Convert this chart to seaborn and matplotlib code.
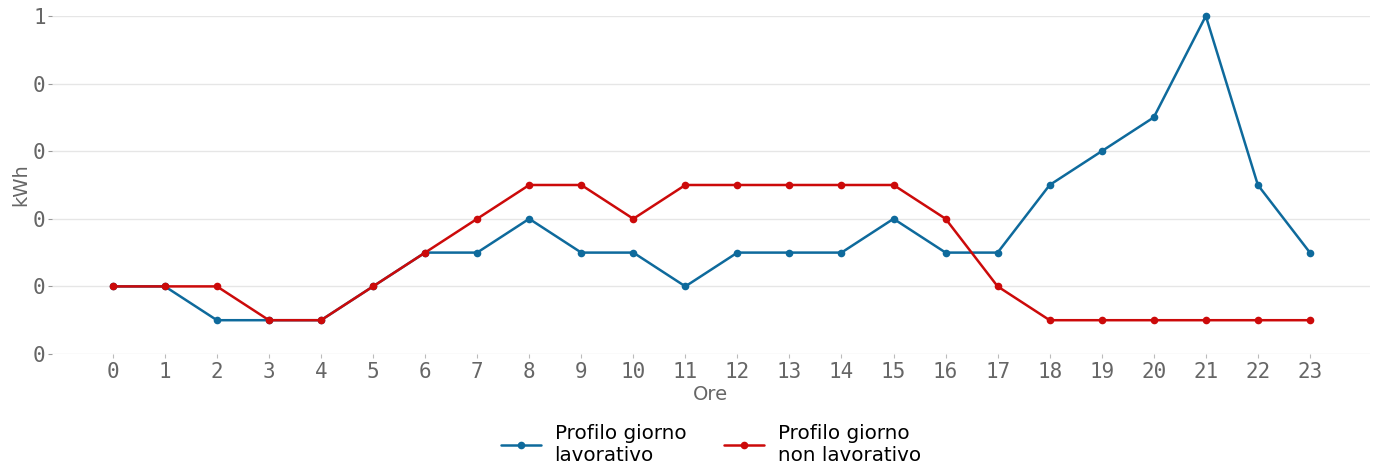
import matplotlib
matplotlib.use("Agg")
import matplotlib.pyplot as plt
import seaborn as sns
import pandas as pd
from matplotlib.ticker import FuncFormatter

hours = list(range(24))
lavorativo = [0.2, 0.2, 0.1, 0.1, 0.1, 0.2, 0.3, 0.3, 0.4, 0.3, 0.3, 0.2,
              0.3, 0.3, 0.3, 0.4, 0.3, 0.3, 0.5, 0.6, 0.7, 1.0, 0.5, 0.3]
non_lavorativo = [0.2, 0.2, 0.2, 0.1, 0.1, 0.2, 0.3, 0.4, 0.5, 0.5, 0.4, 0.5,
                  0.5, 0.5, 0.5, 0.5, 0.4, 0.2, 0.1, 0.1, 0.1, 0.1, 0.1, 0.1]
series_names = ["Profilo giorno\nlavorativo", "Profilo giorno\nnon lavorativo"]
colors = ["#0e6a9c", "#cc0a0a"]

df = pd.DataFrame({
    "Ore": hours * 2,
    "kWh": lavorativo + non_lavorativo,
    "serie": [series_names[0]] * 24 + [series_names[1]] * 24,
})

sns.set_style("white")
fig = plt.figure(figsize=(13.85, 4.7), dpi=100)
ax = fig.add_axes([0.0375, 0.2468, 0.9515, 0.7192])

sns.lineplot(data=df, x="Ore", y="kWh", hue="serie", palette=colors,
             marker="o", markersize=5.5, markeredgewidth=0, linewidth=1.8,
             ax=ax, legend=True)
for l in ax.lines:
    l.set_clip_on(False)

ax.set_xlim(-1.17, 24.15)
ax.set_ylim(0, 1.0)
ax.set_xticks(hours)
ax.set_yticks([0, 0.2, 0.4, 0.6, 0.8, 1.0])
ax.yaxis.set_major_formatter(FuncFormatter(lambda v, p: f"{int(round(v, 6))}"))
ax.grid(axis="y", color="#e6e6e6", linewidth=1)
ax.grid(axis="x", visible=False)
for s in ax.spines.values():
    s.set_visible(False)
ax.tick_params(axis="y", which="major", length=3, width=0.8, color="#999999",
               labelsize=15, labelcolor="#666666", pad=1.5, left=True)
ax.tick_params(axis="x", length=3, width=0.8, color="#bbbbbb", labelsize=15,
               labelcolor="#666666", pad=3, bottom=True)
for t in ax.get_xticklabels() + ax.get_yticklabels():
    t.set_fontfamily("DejaVu Sans Mono")

ax.set_xlabel("Ore", fontsize=14, color="#666666", labelpad=2)
ax.set_ylabel("kWh", fontsize=14, color="#666666", labelpad=2)

handles, labels = ax.get_legend_handles_labels()
leg = ax.legend(handles, labels, loc="upper center", bbox_to_anchor=(0.5, -0.155),
                ncol=2, frameon=False, fontsize=14.3, handlelength=2.0,
                columnspacing=1.9, handletextpad=0.7)
for t in leg.get_texts():
    t.set_color("black")

fig.savefig("out.png", dpi=100)
